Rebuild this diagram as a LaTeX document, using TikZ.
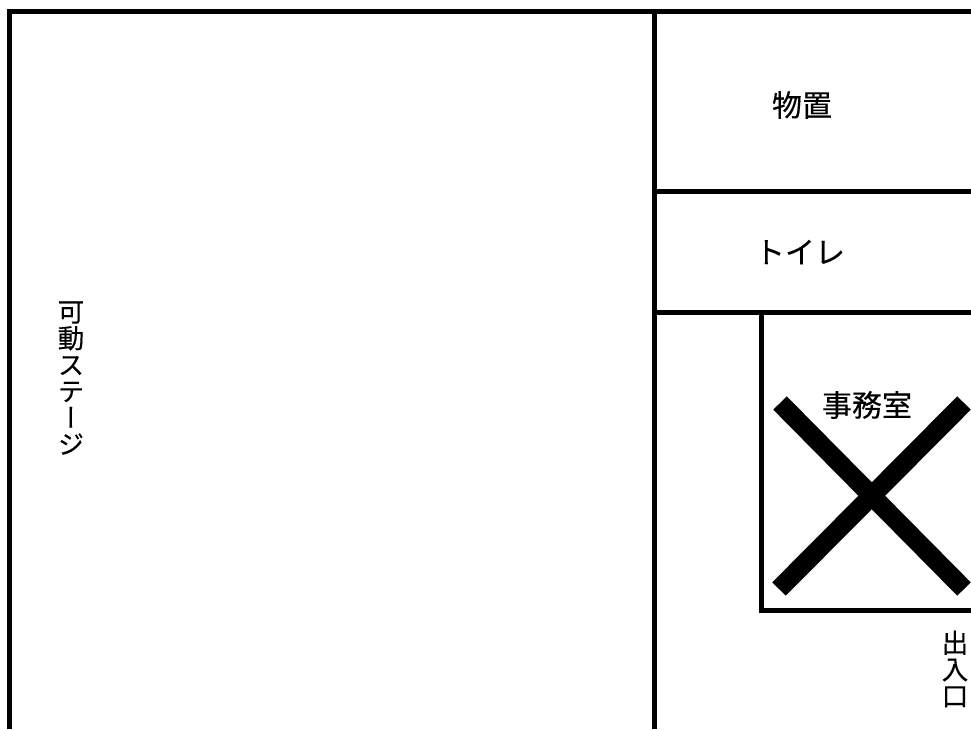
\documentclass[tikz,border=0pt]{standalone}
\usepackage{fontspec}
\setmainfont[FakeBold=0.25]{Noto Sans CJK JP}
\newfontfamily\vertfont[RawFeature=+vert,FakeBold=0.25]{Noto Sans CJK JP}
\tikzset{
  wall/.style={line width=5pt,line cap=butt},
  crossbar/.style={line width=19pt,line cap=butt},
  roomlabel/.style={font=\fontsize{30}{30}\selectfont,inner sep=0pt},
  vertlabel/.style={font=\vertfont\fontsize{26.5}{26.5}\selectfont,inner sep=0pt,align=center},
}
\begin{document}
\begin{tikzpicture}[x=1pt,y=-1pt]
  \useasboundingbox (0,0) rectangle (971,729);
  % outer walls and rooms
  \draw[wall] (9.5,729) -- (9.5,11.5) -- (971,11.5);
  \draw[wall] (654.5,11.5) -- (654.5,729);
  \draw[wall] (654.5,191.5) -- (971,191.5);
  \draw[wall] (654.5,312.5) -- (971,312.5);
  \draw[wall] (761.5,312.5) -- (761.5,610.7) -- (971,610.7);
  % closed office
  \draw[crossbar] (780,403) -- (964,589);
  \draw[crossbar] (964,403) -- (779,589);
  % labels
  \node[roomlabel] (storage) at (802,105) {物置};
  \node[roomlabel] (toilet) at (800,252) {トイレ};
  \node[roomlabel] (office) at (867,405) {事務室};
  \node[vertlabel] (stage) at (71,378) {可\\動\\ス\\テ\\ー\\ジ};
  \node[vertlabel] (entrance) at (955,669) {出\\入\\口};
\end{tikzpicture}
\end{document}
